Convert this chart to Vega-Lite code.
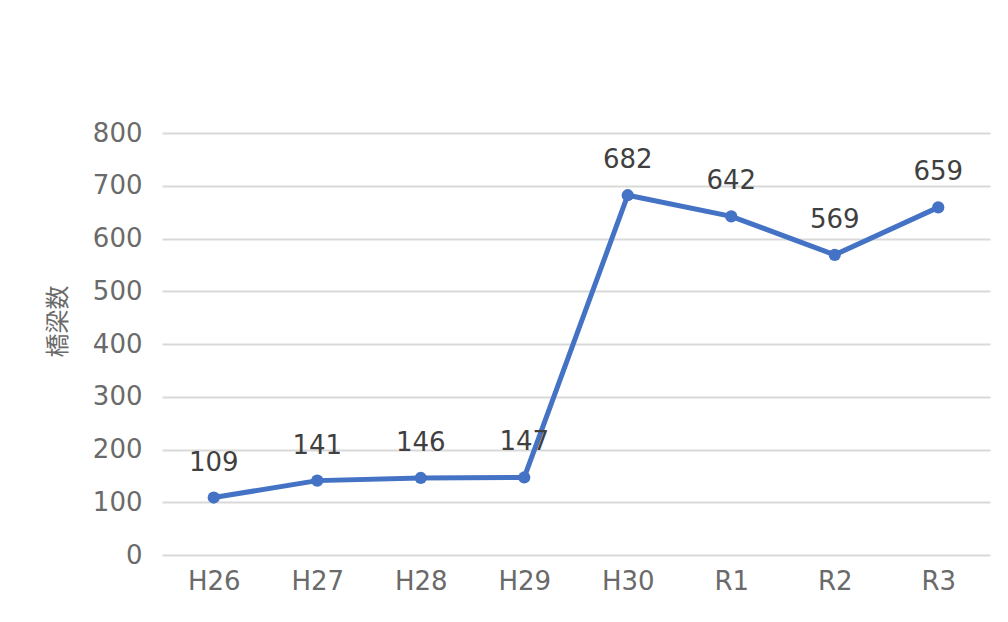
{
  "$schema": "https://vega.github.io/schema/vega-lite/v6.json",
  "width": 828,
  "height": 422,
  "autosize": {"type": "none"},
  "padding": {"left": 162, "top": 133, "right": 18, "bottom": 67},
  "background": "white",
  "config": {"view": {"stroke": null}, "font": "DejaVu Sans, Noto Sans CJK JP"},
  "data": {"values": [
    {"year": "H26", "count": 109},
    {"year": "H27", "count": 141},
    {"year": "H28", "count": 146},
    {"year": "H29", "count": 147},
    {"year": "H30", "count": 682},
    {"year": "R1", "count": 642},
    {"year": "R2", "count": 569},
    {"year": "R3", "count": 659}
  ]},
  "encoding": {
    "x": {"field": "year", "type": "nominal", "sort": null,
      "scale": {"paddingInner": 0, "paddingOuter": 0.5},
      "axis": {"title": null, "labelAngle": 0, "labelFont": "DejaVu Sans", "labelFontSize": 26, "labelColor": "#6a6a6a", "labelPadding": 13, "ticks": false, "domain": false, "grid": false}},
    "y": {"field": "count", "type": "quantitative", "scale": {"domain": [0, 800]},
      "axis": {"title": "橋梁数", "titleFont": "Noto Sans CJK JP", "titleFontSize": 24, "titleFontWeight": "normal", "titleColor": "#6a6a6a",
        "titleX": -104, "titleY": 188, "titleBaseline": "middle", "titleAlign": "center", "titleAngle": -90,
        "values": [0, 100, 200, 300, 400, 500, 600, 700, 800], "labelFont": "DejaVu Sans", "labelFontSize": 26, "labelColor": "#6a6a6a", "labelPadding": 20,
        "ticks": false, "domain": false, "gridColor": "#d9d9d9", "gridWidth": 2}}
  },
  "layer": [
    {"mark": {"type": "line", "color": "#4472C4", "strokeWidth": 5}},
    {"mark": {"type": "point", "filled": true, "color": "#4472C4", "size": 150, "opacity": 1}},
    {"mark": {"type": "text", "dy": -35, "font": "DejaVu Sans", "fontSize": 26, "color": "#404040"}, "encoding": {"text": {"field": "count"}}}
  ]
}
